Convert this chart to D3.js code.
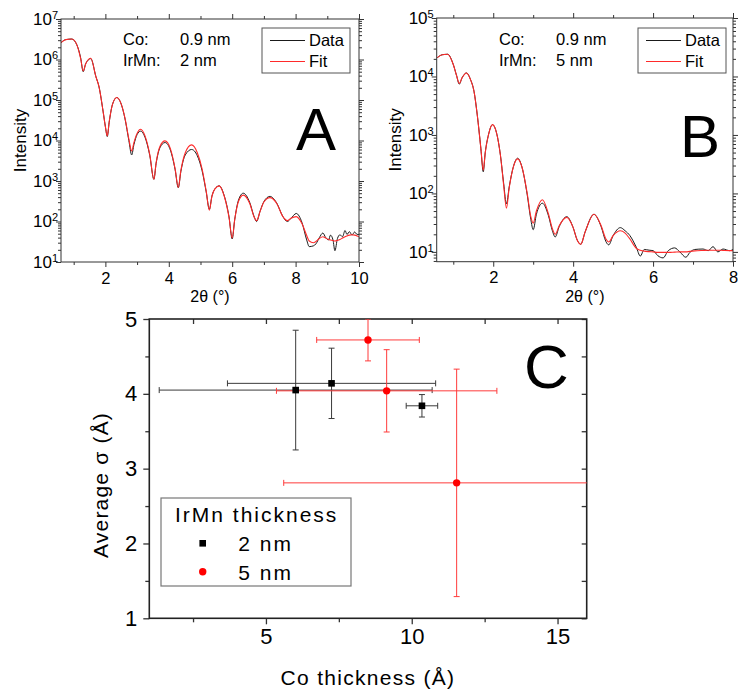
<!DOCTYPE html>
<html>
<head>
<meta charset="utf-8">
<script src="https://cdn.jsdelivr.net/npm/d3@7"></script>
<style>
  body { margin: 0; background: #fff; }
  svg { display: block; font-family: "Liberation Sans", Arial, Helvetica, sans-serif; }
</style>
</head>
<body>
<svg id="fig" width="738" height="694"></svg>
<script>
// ---------- Panel A: Co 0.9 nm / IrMn 2 nm reflectivity ----------
const tthA = [0.60, 0.75, 0.94, 1.10, 1.22, 1.30, 1.38, 1.54, 1.70, 1.80, 1.93, 2.00, 2.06, 2.12, 2.22,
  2.36, 2.50, 2.62, 2.74, 2.83, 2.90, 3.00, 3.11, 3.25, 3.40, 3.53, 3.60, 3.72, 3.88, 4.05, 4.20, 4.30,
  4.38, 4.52, 4.72, 4.90, 5.05, 5.18, 5.28, 5.36, 5.45, 5.59, 5.75, 5.90, 6.00, 6.08, 6.20, 6.35, 6.55,
  6.70, 6.77, 6.88, 7.00, 7.19, 7.40, 7.60, 7.74, 7.85, 8.02, 8.20, 8.35, 8.43, 8.56, 8.64, 8.75, 8.86,
  8.95, 9.04, 9.10, 9.18, 9.24, 9.32, 9.40, 9.48, 9.56, 9.62, 9.70, 9.78, 9.86, 9.94, 10.0];
const dataA = [2.6e6, 3.1e6, 3.2e6, 2.3e6, 1.1e6, 5.0e5, 7.9e5, 1.05e6, 3.8e5, 2.1e5, 5.1e4, 2.2e4, 1.25e4, 2.8e4, 7.6e4,
  1.15e5, 7.9e4, 3.4e4, 1.0e4, 4.4e3, 7.9e3, 1.4e4, 1.7e4, 1.2e4, 4.3e3, 1.1e3, 2.7e3, 6.6e3, 8.9e3, 5.8e3, 1.9e3, 680,
  1.7e3, 4.4e3, 6.0e3, 4.2e3, 1.8e3, 540, 200, 420, 630, 760, 430, 130, 37, 112, 340, 500, 300,
  126, 100, 180, 310, 417, 290, 132, 100, 118, 158, 95, 35, 24, 25, 28, 40, 52,
  40, 35, 46, 35, 19, 38, 47, 42, 60, 48, 56, 46, 55, 48, 48];
const fitA = [2.6e6, 3.1e6, 3.2e6, 2.3e6, 1.05e6, 5.2e5, 7.9e5, 1.07e6, 3.8e5, 2.1e5, 5.1e4, 2.2e4, 1.3e4, 2.9e4, 7.6e4,
  1.15e5, 7.9e4, 3.5e4, 1.1e4, 5.5e3, 8.9e3, 1.5e4, 1.9e4, 1.3e4, 4.5e3, 1.1e3, 2.8e3, 7.1e3, 9.8e3, 6.3e3, 2.0e3, 690,
  1.8e3, 5.0e3, 7.8e3, 5.0e3, 2.0e3, 560, 190, 420, 630, 760, 420, 126, 39, 112, 316, 447, 282,
  126, 105, 178, 302, 389, 282, 132, 105, 120, 132, 89, 45, 33, 30, 32, 38, 42,
  39, 36, 35, 34, 33, 34, 36, 39, 42, 44, 46, 47, 46, 44, 42];

// ---------- Panel B: Co 0.9 nm / IrMn 5 nm reflectivity ----------
const tthB = [0.60, 0.72, 0.86, 1.00, 1.08, 1.15, 1.22, 1.33, 1.43, 1.52, 1.60, 1.69, 1.75, 1.80, 1.88,
  1.98, 2.08, 2.18, 2.26, 2.33, 2.40, 2.50, 2.61, 2.72, 2.85, 2.94, 3.00, 3.08, 3.23, 3.38, 3.48, 3.55,
  3.65, 3.84, 4.00, 4.10, 4.19, 4.30, 4.52, 4.70, 4.82, 4.89, 5.00, 5.18, 5.30, 5.42, 5.58, 5.68, 5.78,
  5.90, 6.00, 6.12, 6.25, 6.38, 6.54, 6.67, 6.82, 6.92, 7.04, 7.25, 7.38, 7.50, 7.62, 7.75, 7.92, 8.00];
const dataB = [2.1e4, 2.35e4, 2.4e4, 1.6e4, 1.05e4, 7.4e3, 9.5e3, 1.15e4, 8.9e3, 5.5e3, 2.2e3, 590, 235, 500, 1000,
  1500, 1100, 450, 150, 66, 130, 280, 400, 280, 95, 36, 24, 44, 68, 42, 23, 18,
  27, 40, 26, 16, 13.5, 22, 44, 27, 15, 13.2, 19, 26, 23, 19, 12, 8.5, 11,
  10.7, 10.5, 8.6, 7.9, 10.5, 11.7, 10, 8.1, 9.8, 11, 11.2, 10.5, 12.3, 10, 11.2, 10.5, 11];
const fitB = [2.1e4, 2.35e4, 2.4e4, 1.6e4, 1.05e4, 7.6e3, 9.5e3, 1.15e4, 8.9e3, 5.5e3, 2.2e3, 590, 250, 500, 1000,
  1500, 1100, 450, 140, 56, 126, 280, 390, 280, 100, 40, 31, 50, 78, 45, 25, 20,
  28, 39, 26, 16, 13.5, 22, 44, 28, 16.6, 14.8, 19, 23, 21, 16.6, 11.5, 10.7, 10.3,
  10.1, 10, 9.8, 9.8, 9.8, 9.9, 10, 10, 10.2, 10.4, 10.6, 10.7, 10.7, 10.7, 10.6, 10.5, 10.5];

// ---------- Panel C: average roughness vs Co thickness ----------
const co2nm = [6.02, 7.25, 10.35];
const coErr2nm = [4.68, 3.57, 0.54];
const sigma2nm = [4.05, 4.14, 3.84];
const sigmaErr2nm = [0.80, 0.47, 0.15];
const co5nm = [8.50, 9.14, 11.54];
const coErr5nm = [1.76, 3.78, 5.93];
const sigma5nm = [4.72, 4.04, 2.81];
const sigmaErr5nm = [0.28, 0.55, 1.52];
const seriesNames = ["2 nm", "5 nm"];
const xTicksC = [5, 10, 15];
const xMinorC = [2.5, 7.5, 12.5];
const yTicksC = [1, 2, 3, 4, 5];
const yMinorC = [1.5, 2.5, 3.5, 4.5];

const svg = d3.select("#fig");
const FRAME = "#333";

function logMinors(lo, hi) {
  const out = [];
  for (let e = Math.floor(Math.log10(lo)); e <= Math.ceil(Math.log10(hi)); e++) {
    for (let m = 2; m <= 9; m++) {
      const v = m * Math.pow(10, e);
      if (v >= lo && v <= hi) out.push(v);
    }
  }
  return out;
}

function styleAxis(g) {
  g.select(".domain").remove();
  g.selectAll(".tick line").attr("stroke", FRAME).attr("stroke-width", 1);
  g.selectAll("text").attr("fill", "#000");
}

function xrrPanel(o) {
  const x = d3.scaleLinear().domain(o.xDomain).range([o.left, o.right]);
  const y = d3.scaleLog().domain(o.yDomain).range([o.bottom, o.top]);
  const g = svg.append("g");
  const clipId = "clip-" + o.id;
  g.append("clipPath").attr("id", clipId).append("rect")
    .attr("x", o.left).attr("y", o.top)
    .attr("width", o.right - o.left).attr("height", o.bottom - o.top);

  const decades = [];
  for (let e = Math.ceil(Math.log10(o.yDomain[0])); e <= Math.floor(Math.log10(o.yDomain[1])); e++) decades.push(Math.pow(10, e));
  const yMinor = logMinors(o.yDomain[0], o.yDomain[1]);

  // bottom axis
  const gb = g.append("g").attr("transform", `translate(0,${o.bottom})`)
    .call(d3.axisBottom(x).tickValues(o.xMajor).tickSize(5).tickPadding(5).tickFormat(d3.format("d")));
  styleAxis(gb);
  gb.selectAll("text").attr("font-size", 16.5).attr("font-family", "'Liberation Sans', Arial, sans-serif");
  styleAxis(g.append("g").attr("transform", `translate(0,${o.bottom})`)
    .call(d3.axisBottom(x).tickValues(o.xMinor).tickSize(3).tickFormat("")));
  // top axis (mirror)
  styleAxis(g.append("g").attr("transform", `translate(0,${o.top})`)
    .call(d3.axisTop(x).tickValues(o.xMajor).tickSize(5).tickFormat("")));
  styleAxis(g.append("g").attr("transform", `translate(0,${o.top})`)
    .call(d3.axisTop(x).tickValues(o.xMinor).tickSize(3).tickFormat("")));

  // left axis with 10^n labels
  const gl = g.append("g").attr("transform", `translate(${o.left},0)`)
    .call(d3.axisLeft(y).tickValues(decades).tickSize(5).tickPadding(-2).tickFormat(""));
  styleAxis(gl);
  gl.selectAll(".tick text").each(function (d) {
    const t = d3.select(this).attr("font-size", 17).attr("font-family", "'Liberation Sans', Arial, sans-serif");
    t.text(null);
    t.append("tspan").text("10");
    t.append("tspan").attr("font-size", 11).attr("dy", "-0.55em").text(Math.round(Math.log10(d)));
  });
  styleAxis(g.append("g").attr("transform", `translate(${o.left},0)`)
    .call(d3.axisLeft(y).tickValues(yMinor).tickSize(3).tickFormat("")));
  // right axis (mirror)
  styleAxis(g.append("g").attr("transform", `translate(${o.right},0)`)
    .call(d3.axisRight(y).tickValues(decades).tickSize(5).tickFormat("")));
  styleAxis(g.append("g").attr("transform", `translate(${o.right},0)`)
    .call(d3.axisRight(y).tickValues(yMinor).tickSize(3).tickFormat("")));

  // curves
  const line = d3.line().x(d => x(d[0])).y(d => y(d[1])).curve(d3.curveMonotoneX);
  const curves = g.append("g").attr("clip-path", `url(#${clipId})`);
  curves.append("path").datum(d3.zip(o.tth, o.data)).attr("d", line)
    .attr("fill", "none").attr("stroke", "#1a1a1a").attr("stroke-width", 1);
  curves.append("path").datum(d3.zip(o.tth, o.fit)).attr("d", line)
    .attr("fill", "none").attr("stroke", "#ff2a2a").attr("stroke-width", 1.1);

  // frame
  g.append("rect").attr("x", o.left).attr("y", o.top)
    .attr("width", o.right - o.left).attr("height", o.bottom - o.top)
    .attr("fill", "none").attr("stroke", FRAME).attr("stroke-width", 1);

  // axis titles
  g.append("text").attr("transform", `translate(${o.yTitleX},${(o.top + o.bottom) / 2}) rotate(-90)`)
    .attr("text-anchor", "middle").attr("font-size", 17).text("Intensity");
  g.append("text").attr("x", (o.left + o.right) / 2).attr("y", 302)
    .attr("text-anchor", "middle").attr("font-size", 16).text("2θ (°)");

  // sample annotation
  const ann = g.append("g").attr("font-size", 16.5);
  ann.append("text").attr("x", o.annX).attr("y", 45).text("Co:");
  ann.append("text").attr("x", o.annX + 57).attr("y", 45).text(o.coText);
  ann.append("text").attr("x", o.annX).attr("y", 66).text("IrMn:");
  ann.append("text").attr("x", o.annX + 57).attr("y", 66).text(o.irmnText);

  // legend
  const lg = g.append("g");
  lg.append("rect").attr("x", o.legX).attr("y", 28).attr("width", 88).attr("height", 45)
    .attr("fill", "#fff").attr("stroke", "#555").attr("stroke-width", 1);
  lg.append("line").attr("x1", o.legX + 8).attr("x2", o.legX + 43).attr("y1", 40.5).attr("y2", 40.5)
    .attr("stroke", "#1a1a1a").attr("stroke-width", 1);
  lg.append("line").attr("x1", o.legX + 8).attr("x2", o.legX + 43).attr("y1", 61.5).attr("y2", 61.5)
    .attr("stroke", "#ff2a2a").attr("stroke-width", 1.1);
  lg.append("text").attr("x", o.legX + 47).attr("y", 46).attr("font-size", 16.5).text("Data");
  lg.append("text").attr("x", o.legX + 47).attr("y", 67).attr("font-size", 16.5).text("Fit");

  // panel letter
  g.append("text").attr("x", o.letterX).attr("y", o.letterY).attr("font-size", 60).text(o.letter);
}

xrrPanel({
  id: "A", left: 61, right: 359, top: 19, bottom: 262,
  xDomain: [0.6, 10], yDomain: [10, 1e7],
  xMajor: [2, 4, 6, 8, 10], xMinor: [1, 3, 5, 7, 9],
  tth: tthA, data: dataA, fit: fitA,
  yTitleX: 26, annX: 123, coText: "0.9 nm", irmnText: "2 nm",
  legX: 262, letter: "A", letterX: 296, letterY: 150
});

xrrPanel({
  id: "B", left: 436.7, right: 733, top: 18, bottom: 261.7,
  xDomain: [0.585, 8], yDomain: [6.8, 1e5],
  xMajor: [2, 4, 6, 8], xMinor: [1, 3, 5, 7],
  tth: tthB, data: dataB, fit: fitB,
  yTitleX: 401, annX: 499, coText: "0.9 nm", irmnText: "5 nm",
  legX: 638, letter: "B", letterX: 680, letterY: 157
});

// ---------- Panel C ----------
(function () {
  const L = 149.3, R = 586.7, T = 319, B = 618.3;
  const x = d3.scaleLinear().domain([1, 16]).range([L, R]);
  const y = d3.scaleLinear().domain([1, 5]).range([B, T]);
  const g = svg.append("g");
  g.append("clipPath").attr("id", "clip-C").append("rect")
    .attr("x", L).attr("y", T).attr("width", R - L).attr("height", B - T);

  const fontC = "'Liberation Sans', Arial, sans-serif";
  const gb = g.append("g").attr("transform", `translate(0,${B})`)
    .call(d3.axisBottom(x).tickValues(xTicksC).tickSize(6).tickPadding(4).tickFormat(d3.format("d")));
  styleAxis(gb);
  gb.selectAll("text").attr("font-size", 22).attr("font-family", fontC);
  styleAxis(g.append("g").attr("transform", `translate(0,${B})`)
    .call(d3.axisBottom(x).tickValues(xMinorC).tickSize(4).tickFormat("")));
  styleAxis(g.append("g").attr("transform", `translate(0,${T})`)
    .call(d3.axisBottom(x).tickValues(xTicksC.concat(xMinorC)).tickSize(5).tickFormat("")));

  const gl = g.append("g").attr("transform", `translate(${L},0)`)
    .call(d3.axisLeft(y).tickValues(yTicksC).tickSize(6).tickPadding(6).tickFormat(d3.format("d")));
  styleAxis(gl);
  gl.selectAll("text").attr("font-size", 22).attr("font-family", fontC);
  styleAxis(g.append("g").attr("transform", `translate(${L},0)`)
    .call(d3.axisLeft(y).tickValues(yMinorC).tickSize(4).tickFormat("")));
  styleAxis(g.append("g").attr("transform", `translate(${R},0)`)
    .call(d3.axisLeft(y).tickValues(yTicksC.concat(yMinorC)).tickSize(5).tickFormat("")));
  g.selectAll(".tick line").attr("stroke-width", 1.3);

  g.append("rect").attr("x", L).attr("y", T).attr("width", R - L).attr("height", B - T)
    .attr("fill", "none").attr("stroke", "#222").attr("stroke-width", 1.6);

  const series = [
    { name: seriesNames[0], xs: co2nm, xe: coErr2nm, ys: sigma2nm, ye: sigmaErr2nm, bar: "#3a3a3a", fill: "#000", shape: "square" },
    { name: seriesNames[1], xs: co5nm, xe: coErr5nm, ys: sigma5nm, ye: sigmaErr5nm, bar: "#ff3b3b", fill: "#ff0000", shape: "circle" }
  ];
  const plot = g.append("g").attr("clip-path", "url(#clip-C)");
  const cap = 3;
  series.forEach(s => {
    const bars = plot.append("g").attr("stroke", s.bar).attr("stroke-width", 1).attr("fill", "none");
    s.xs.forEach((cx, i) => {
      const px = x(cx), py = y(s.ys[i]);
      const xl = x(cx - s.xe[i]), xr = x(cx + s.xe[i]);
      const yt = y(s.ys[i] + s.ye[i]), yb = y(s.ys[i] - s.ye[i]);
      bars.append("line").attr("x1", xl).attr("x2", xr).attr("y1", py).attr("y2", py);
      bars.append("line").attr("x1", xl).attr("x2", xl).attr("y1", py - cap).attr("y2", py + cap);
      bars.append("line").attr("x1", xr).attr("x2", xr).attr("y1", py - cap).attr("y2", py + cap);
      bars.append("line").attr("x1", px).attr("x2", px).attr("y1", yt).attr("y2", yb);
      bars.append("line").attr("x1", px - cap).attr("x2", px + cap).attr("y1", yt).attr("y2", yt);
      bars.append("line").attr("x1", px - cap).attr("x2", px + cap).attr("y1", yb).attr("y2", yb);
    });
  });
  series.forEach(s => {
    s.xs.forEach((cx, i) => {
      const px = x(cx), py = y(s.ys[i]);
      if (s.shape === "square") {
        plot.append("rect").attr("x", px - 3.3).attr("y", py - 3.3).attr("width", 6.6).attr("height", 6.6).attr("fill", s.fill);
      } else {
        plot.append("circle").attr("cx", px).attr("cy", py).attr("r", 3.7).attr("fill", s.fill);
      }
    });
  });

  // legend
  const lg = g.append("g");
  lg.append("rect").attr("x", 161).attr("y", 498).attr("width", 190).attr("height", 88)
    .attr("fill", "#fff").attr("stroke", "#777").attr("stroke-width", 1.2);
  lg.append("text").attr("x", 175).attr("y", 521.5).attr("font-size", 21)
    .attr("letter-spacing", 2).text("IrMn thickness");
  lg.append("rect").attr("x", 202.7 - 3.3).attr("y", 543.3 - 3.3).attr("width", 6.6).attr("height", 6.6).attr("fill", "#000");
  lg.append("text").attr("x", 238.3).attr("y", 551).attr("font-size", 21).attr("letter-spacing", 2).text(seriesNames[0]);
  lg.append("circle").attr("cx", 202.7).attr("cy", 571.7).attr("r", 3.7).attr("fill", "#ff0000");
  lg.append("text").attr("x", 238.3).attr("y", 579.5).attr("font-size", 21).attr("letter-spacing", 2).text(seriesNames[1]);

  // axis titles
  g.append("text").attr("x", 368).attr("y", 685).attr("text-anchor", "middle")
    .attr("font-size", 21).attr("letter-spacing", 1.3).text("Co thickness (Å)");
  g.append("text").attr("transform", "translate(108,485) rotate(-90)").attr("text-anchor", "middle")
    .attr("font-size", 21).attr("letter-spacing", 1.2).text("Average σ (Å)");

  // panel letter
  g.append("text").attr("x", 524).attr("y", 388).attr("font-size", 62).text("C");
})();
</script>
</body>
</html>
